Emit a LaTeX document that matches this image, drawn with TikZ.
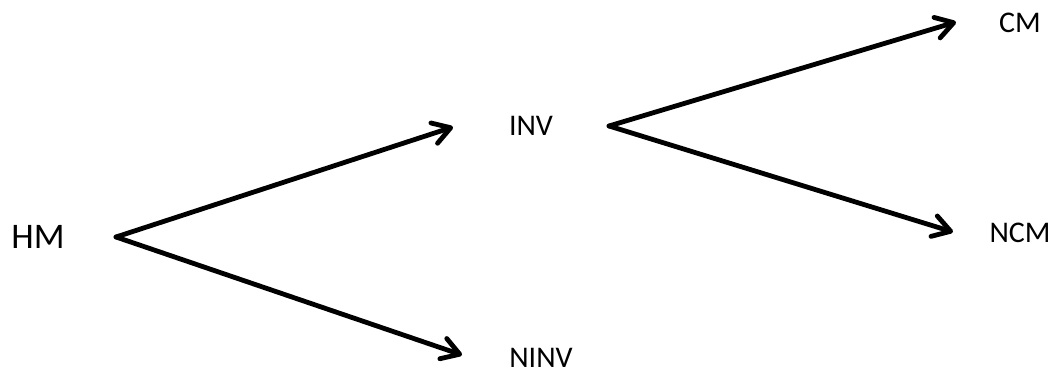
\documentclass[tikz,border=0pt]{standalone}
\usepackage{fontspec}
\setmainfont{Carlito}
\usetikzlibrary{arrows.meta}
\begin{document}
\begin{tikzpicture}[x=0.75pt,y=-0.75pt,
  lbl/.style={anchor=base,inner sep=0pt,font=\fontsize{22.5}{27}\selectfont},
  big/.style={anchor=base,inner sep=0pt,font=\fontsize{27}{32}\selectfont},
  conn/.style={line width=3.6pt,line cap=round,line join=round,
    -{Straight Barb[length=13pt,width=16pt,line cap=round,line join=round]}}]
\useasboundingbox (0,0) rectangle (1054,374);
\node[big] (hm) at (38,248) {HM};
\node[lbl] (inv) at (531,136) {INV};
\node[lbl] (ninv) at (541,368) {NINV};
\node[lbl] (cm) at (1020,33) {CM};
\node[lbl] (ncm) at (1020,243) {NCM};
\coordinate (hmR) at (116,237);
\coordinate (invL) at (453,127);
\coordinate (ninvL) at (462,355);
\coordinate (invR) at (609,126);
\coordinate (cmL) at (956,22);
\coordinate (ncmL) at (953,232);
\draw[conn] (hmR) -- (invL);
\draw[conn] (hmR) -- (ninvL);
\draw[conn] (invR) -- (cmL);
\draw[conn] (invR) -- (ncmL);
\end{tikzpicture}
\end{document}
